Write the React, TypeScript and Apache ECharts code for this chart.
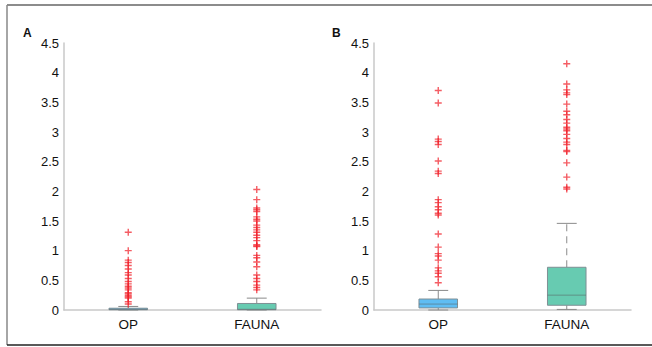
import React, { useEffect, useRef } from "react";
import * as echarts from "echarts";

const categories = ["OP", "FAUNA"];
const yTicks = [0, 0.5, 1, 1.5, 2, 2.5, 3, 3.5, 4, 4.5];

// [min, Q1, median, Q3, max]
const boxA_OP = [0, 0.005, 0.012, 0.03, 0.06];
const boxA_FAUNA = [0, 0.005, 0.012, 0.11, 0.2];
const boxB_OP = [0, 0.035, 0.1, 0.185, 0.33];
const boxB_FAUNA = [0.01, 0.08, 0.25, 0.72, 1.46];

const outA_OP = [1.31, 1.0, 0.84, 0.8, 0.75, 0.69, 0.63, 0.59, 0.53, 0.48, 0.44, 0.4, 0.37, 0.34, 0.29, 0.27, 0.24, 0.22, 0.2, 0.14, 0.1];
const outA_FAUNA = [2.03, 1.86, 1.72, 1.69, 1.66, 1.57, 1.53, 1.5, 1.43, 1.39, 1.35, 1.31, 1.26, 1.22, 1.17, 1.1, 1.08, 1.07, 0.92, 0.88, 0.81, 0.73, 0.59, 0.53, 0.48, 0.42, 0.38, 0.34];
const outB_OP = [3.7, 3.49, 2.88, 2.84, 2.79, 2.51, 2.34, 2.3, 1.86, 1.81, 1.74, 1.69, 1.63, 1.6, 1.28, 1.06, 0.95, 0.91, 0.84, 0.71, 0.66, 0.62, 0.56, 0.46];
const outB_FAUNA = [4.15, 3.81, 3.71, 3.66, 3.63, 3.47, 3.35, 3.29, 3.21, 3.15, 3.08, 3.05, 3.02, 2.96, 2.89, 2.83, 2.79, 2.69, 2.67, 2.48, 2.24, 2.07, 2.04];

const OP_COLOR = "#5fbdf3";
const FAUNA_COLOR = "#67cbb1";
const PLUS = "path://M4,0H6V4H10V6H6V10H4V6H0V4H4Z";
const FONT = "'Liberation Sans', Arial, Helvetica, sans-serif";

function boxSeries(gridIdx: number, cat: number, vals: number[], color: string, dashedUpper: boolean) {
  return {
    type: "custom",
    xAxisIndex: gridIdx,
    yAxisIndex: gridIdx,
    silent: true,
    data: [[cat, ...vals]],
    renderItem: (params: any, api: any) => {
      const x = api.value(0);
      const mn = api.coord([x, api.value(1)]);
      const q1 = api.coord([x, api.value(2)]);
      const md = api.coord([x, api.value(3)]);
      const q3 = api.coord([x, api.value(4)]);
      const mx = api.coord([x, api.value(5)]);
      const band = api.size([1, 0])[0];
      const bw = band * 0.3;
      const cw = band * 0.155;
      const cx = mn[0];
      const wStyle = { stroke: "#8a8a8a", lineWidth: 1, fill: null };
      return {
        type: "group",
        children: [
          { type: "line", shape: { x1: cx, y1: q3[1], x2: cx, y2: mx[1] }, style: { ...wStyle, lineDash: dashedUpper ? [7, 5] : null } },
          { type: "line", shape: { x1: cx - cw / 2, y1: mx[1], x2: cx + cw / 2, y2: mx[1] }, style: wStyle },
          { type: "line", shape: { x1: cx, y1: q1[1], x2: cx, y2: mn[1] }, style: wStyle },
          { type: "line", shape: { x1: cx - cw / 2, y1: mn[1], x2: cx + cw / 2, y2: mn[1] }, style: wStyle },
          { type: "rect", shape: { x: cx - bw / 2, y: q3[1], width: bw, height: Math.max(q1[1] - q3[1], 1) }, style: { fill: color, stroke: "#7f8f95", lineWidth: 1 } },
          { type: "line", shape: { x1: cx - bw / 2, y1: md[1], x2: cx + bw / 2, y2: md[1] }, style: { stroke: "rgba(90,100,100,0.55)", lineWidth: 1 } },
        ],
      };
    },
  };
}

function outlierSeries(gridIdx: number, cat: number, vals: number[]) {
  return {
    type: "scatter",
    xAxisIndex: gridIdx,
    yAxisIndex: gridIdx,
    symbol: PLUS,
    symbolSize: 7,
    silent: true,
    itemStyle: { color: "rgba(240,30,40,0.9)" },
    data: vals.map((v) => [cat, v]),
    z: 5,
  };
}

export default function App() {
  const ref = useRef<HTMLDivElement>(null);
  useEffect(() => {
    if (!ref.current) return;
    const chart = echarts.init(ref.current, null, { renderer: "svg" });
    const grids = [
      { left: 64, top: 43, width: 257, height: 267 },
      { left: 374, top: 43, width: 257, height: 267 },
    ];
    const xAxes = grids.map((_, i) => ({
      type: "category",
      gridIndex: i,
      data: categories,
      boundaryGap: true,
      axisLine: { lineStyle: { color: "#c9c9c9", width: 1.5 } },
      axisTick: { show: false },
      axisLabel: { color: "#111", fontSize: 13.5, fontFamily: FONT, margin: 7 },
    }));
    const yAxes = grids.map((_, i) => ({
      type: "value",
      gridIndex: i,
      min: 0,
      max: 4.5,
      interval: 0.5,
      axisLine: { show: true, lineStyle: { color: "#c9c9c9", width: 1.5 } },
      axisTick: { show: false },
      splitLine: { show: false },
      axisLabel: {
        color: "#111",
        fontSize: 13,
        fontFamily: FONT,
        margin: 5,
        formatter: (v: number) => (yTicks.includes(v) ? String(v) : ""),
      },
    }));
    chart.setOption({
      animation: false,
      grid: grids,
      xAxis: xAxes,
      yAxis: yAxes,
      graphic: [
        { type: "line", shape: { x1: 7, y1: 5, x2: 652, y2: 5 }, style: { stroke: "#666", lineWidth: 1.5 } },
        { type: "line", shape: { x1: 7, y1: 5, x2: 7, y2: 345 }, style: { stroke: "#888", lineWidth: 1.5 } },
        { type: "line", shape: { x1: 7, y1: 345, x2: 652, y2: 345 }, style: { stroke: "#222", lineWidth: 1.5 } },
        { type: "text", left: 23, top: 27, style: { text: "A", font: `bold 12px ${FONT}`, fill: "#111" } },
        { type: "text", left: 332, top: 27, style: { text: "B", font: `bold 12px ${FONT}`, fill: "#111" } },
      ],
      series: [
        boxSeries(0, 0, boxA_OP, OP_COLOR, false),
        boxSeries(0, 1, boxA_FAUNA, FAUNA_COLOR, false),
        boxSeries(1, 0, boxB_OP, OP_COLOR, false),
        boxSeries(1, 1, boxB_FAUNA, FAUNA_COLOR, true),
        outlierSeries(0, 0, outA_OP),
        outlierSeries(0, 1, outA_FAUNA),
        outlierSeries(1, 0, outB_OP),
        outlierSeries(1, 1, outB_FAUNA),
      ],
    });
    return () => chart.dispose();
  }, []);
  return <div ref={ref} style={{ width: 652, height: 347, position: "absolute", left: 0, top: 0 }} />;
}
